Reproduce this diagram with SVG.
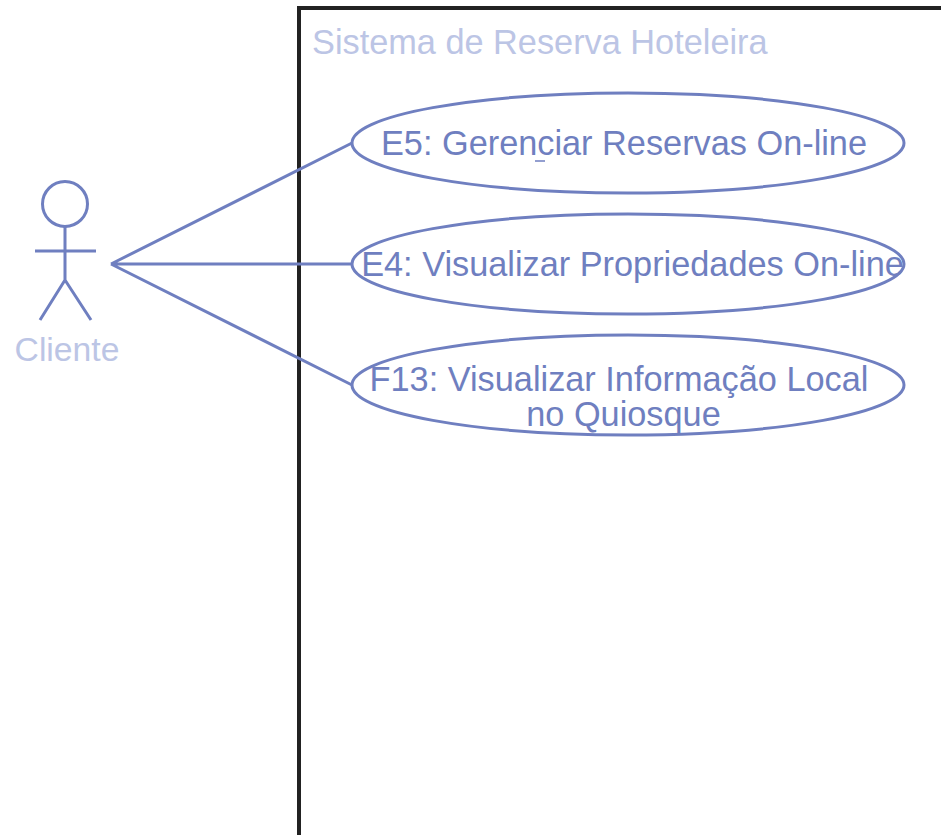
<svg xmlns="http://www.w3.org/2000/svg" width="941" height="835" viewBox="0 0 941 835">
<style>
.l{fill:none;stroke:#6f7fc0;stroke-width:3}
.t{font-family:"Liberation Sans",Arial,sans-serif;font-size:34.300px;fill:#6f7fc0;text-anchor:middle}
.p{font-family:"Liberation Sans",Arial,sans-serif;font-size:34.300px;fill:#bcc5e5}
</style>
<rect width="941" height="835" fill="#fff"/>
<g id="system"><path d="M299 835V8H941" fill="none" stroke="#222" stroke-width="4"/>
<text class="p" x="312" y="54">Sistema de Reserva Hoteleira</text></g>
<g id="connectors">
<path class="l" d="M111 264L352 143M111 264H352M111 264L352 385"/>
</g>
<g id="actor"><circle class="l" cx="65" cy="204" r="22.500"/>
<path class="l" d="M65 227V280M35 251H96M65 280L40 320M65 280L91 320"/>
<text class="p" x="67" y="361" text-anchor="middle" style="font-size:33.700px">Cliente</text></g>
<g id="e5"><ellipse class="l" cx="628" cy="143" rx="276" ry="50"/><text class="t" x="624" y="155">E5: Gerenciar Reservas On-line</text><path d="M535 161H545" stroke="#6f7fc0" stroke-width="1.500"/></g>
<g id="e4"><ellipse class="l" cx="628" cy="264" rx="276" ry="50"/><text class="t" x="632.500" y="276">E4: Visualizar Propriedades On-line</text></g>
<g id="f13"><ellipse class="l" cx="628" cy="385" rx="276" ry="50"/><text class="t" x="619" y="391">F13: Visualizar Informação Local</text><text class="t" x="623.500" y="426">no Quiosque</text></g>
</svg>
